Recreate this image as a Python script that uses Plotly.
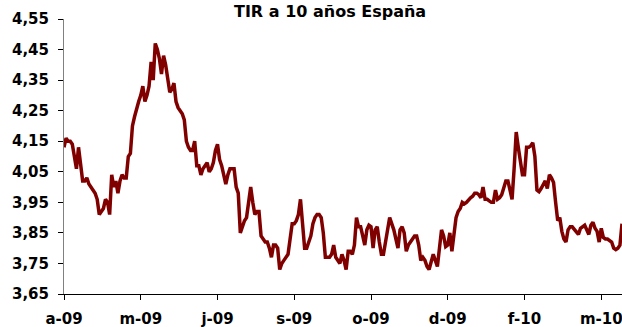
import pandas as pd
import plotly.graph_objects as go

# Rentabilidad del bono español a 10 años (%), una observación por día hábil
yields = [
    4.13, 4.16, 4.15, 4.15, 4.14, 4.10, 4.06, 4.13, 4.07, 4.02,
    4.02, 4.03, 4.01, 4.00, 3.99, 3.98, 3.96, 3.91, 3.92, 3.93,
    3.96, 3.95, 3.91, 4.04, 4.00, 4.02, 3.98, 4.02, 4.04, 4.03,
    4.03, 4.10, 4.11, 4.20, 4.23, 4.26, 4.28, 4.30, 4.33, 4.28,
    4.30, 4.33, 4.41, 4.35, 4.47, 4.45, 4.42, 4.37, 4.43, 4.40,
    4.35, 4.31, 4.32, 4.34, 4.28, 4.26, 4.25, 4.24, 4.22, 4.15,
    4.13, 4.12, 4.12, 4.15, 4.07, 4.07, 4.04, 4.06, 4.07, 4.08,
    4.05, 4.06, 4.08, 4.12, 4.14, 4.09, 4.07, 4.04, 4.01, 4.04,
    4.06, 4.06, 4.06, 4.00, 3.98, 3.85, 3.87, 3.89, 3.90, 3.95,
    4.00, 3.95, 3.91, 3.92, 3.92, 3.84, 3.83, 3.82, 3.82, 3.80,
    3.77, 3.81, 3.81, 3.80, 3.73, 3.75, 3.76, 3.77, 3.78, 3.83,
    3.88, 3.88, 3.89, 3.91, 3.96, 3.88, 3.80, 3.80, 3.82, 3.84,
    3.88, 3.90, 3.91, 3.91, 3.90, 3.85, 3.77, 3.77, 3.77, 3.78,
    3.81, 3.77, 3.76, 3.75, 3.78, 3.76, 3.73, 3.79, 3.79, 3.78,
    3.81, 3.90, 3.87, 3.87, 3.84, 3.81, 3.86, 3.875, 3.87, 3.80,
    3.86, 3.87, 3.82, 3.78, 3.78, 3.83, 3.86, 3.90, 3.88, 3.86,
    3.83, 3.80, 3.86, 3.87, 3.85, 3.79, 3.81, 3.82, 3.83, 3.84,
    3.84, 3.81, 3.76, 3.77, 3.76, 3.74, 3.73, 3.76, 3.78, 3.76,
    3.74, 3.80, 3.86, 3.84, 3.805, 3.81, 3.85, 3.79, 3.85, 3.90,
    3.92, 3.93, 3.95, 3.945, 3.95, 3.96, 3.965, 3.97, 3.98, 3.98,
    3.975, 3.965, 4.00, 3.96, 3.96, 3.955, 3.95, 3.95, 3.99, 3.96,
    3.965, 3.975, 4.00, 4.02, 4.02, 3.99, 3.96, 4.06, 4.18, 4.13,
    4.08, 4.04, 4.04, 4.13, 4.13, 4.135, 4.145, 4.10, 3.99, 3.985,
    3.995, 4.01, 4.02, 3.995, 4.04, 4.03, 4.015, 3.95, 3.89, 3.90,
    3.855, 3.83, 3.82, 3.86, 3.87, 3.87, 3.86, 3.85, 3.845, 3.865,
    3.87, 3.875, 3.86, 3.845, 3.875, 3.885, 3.865, 3.855, 3.82, 3.865,
    3.835, 3.83, 3.83, 3.825, 3.82, 3.80, 3.795, 3.80, 3.81, 3.88,
]

dates = pd.bdate_range("2009-04-01", periods=len(yields))
days = [d.strftime("%Y-%m-%d") for d in dates]

# etiquetas del eje de fechas, una cada 37 sesiones
tick_every = 37
tick_text = ["a-09", "m-09", "j-09", "s-09", "o-09", "d-09", "f-10", "m-10"]
tick_vals = days[::tick_every][:len(tick_text)]

y_ticks = [3.65, 3.75, 3.85, 3.95, 4.05, 4.15, 4.25, 4.35, 4.45, 4.55]

FONT = "DejaVu Sans"
INK = "#000000"

fig = go.Figure()
fig.add_trace(go.Scatter(
    x=days, y=yields, mode="lines",
    line=dict(color="#800000", width=3.5),
    hoverinfo="x+y", showlegend=False,
))

fig.update_layout(
    width=622, height=327,
    margin=dict(l=64, r=0, t=19, b=33),
    paper_bgcolor="white", plot_bgcolor="white",
    separators=",.",
    font=dict(family=FONT, size=15, color=INK),
    annotations=[dict(
        text="<b>TIR a 10 años España</b>",
        xref="paper", yref="paper", x=0.477, y=1,
        xanchor="center", yanchor="top", yshift=19,
        showarrow=False, font=dict(family=FONT, size=16, color=INK),
    )],
)

fig.update_xaxes(
    type="category", range=[0, len(yields) - 1],
    tickmode="array", tickvals=tick_vals, ticktext=tick_text,
    ticks="outside", ticklen=5, tickcolor=INK, tickwidth=1,
    showline=True, linecolor=INK, linewidth=1,
    showgrid=False, zeroline=False,
    tickfont=dict(family=FONT, size=15, color=INK, weight="bold"),
    ticklabelstandoff=6,
)
fig.update_yaxes(
    range=[3.65, 4.55], tickmode="array", tickvals=y_ticks,
    tickformat=".2f",
    ticks="outside", ticklen=5, tickcolor=INK, tickwidth=1,
    showline=True, linecolor="#808080", linewidth=1,
    showgrid=False, zeroline=False,
    tickfont=dict(family=FONT, size=15, color=INK, weight="bold"),
    ticklabelstandoff=6,
)

fig.write_html("out.html")
